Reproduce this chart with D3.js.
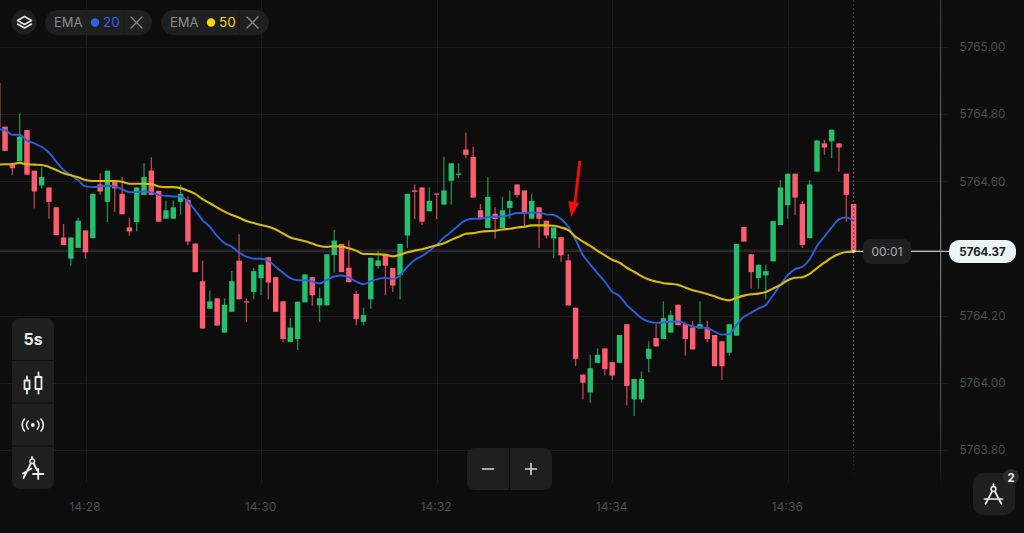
<!DOCTYPE html>
<html><head><meta charset="utf-8">
<script src="https://cdn.jsdelivr.net/npm/d3@7/dist/d3.min.js"></script>
<style>
html,body{margin:0;padding:0;background:#0d0d0d;overflow:hidden}
svg{display:block;font-family:Inter,Roboto,sans-serif}
</style></head><body>
<svg id="c" width="1024" height="533"></svg>
<script>
// Candle values, one per 5 seconds, first candle is 60 s before 14:28
const opens=[5764.893,5764.763,5764.651,5764.660,5764.753,5764.632,5764.588,5764.582,5764.523,5764.433,5764.370,5764.402,
5764.454,5764.431,5764.591,5764.539,5764.599,5764.563,5764.463,5764.479,5764.560,5764.632,5764.572,5764.489,
5764.489,5764.539,5764.545,5764.415,5764.303,5764.221,5764.252,5764.150,5764.212,5764.364,5764.243,5764.271,
5764.312,5764.374,5764.315,5764.243,5764.122,5764.131,5764.240,5764.315,5764.231,5764.231,5764.381,5764.414,
5764.343,5764.265,5764.182,5764.249,5764.348,5764.381,5764.342,5764.321,5764.439,5764.573,5764.582,5764.511,
5764.564,5764.531,5764.602,5764.620,5764.695,5764.673,5764.514,5764.461,5764.504,5764.461,5764.521,5764.591,
5764.573,5764.489,5764.523,5764.483,5764.430,5764.434,5764.365,5764.224,5764.025,5763.972,5764.060,5764.103,
5764.062,5764.060,5764.175,5763.951,5763.951,5764.072,5764.134,5764.131,5764.150,5764.233,5764.175,5764.165,
5764.162,5764.165,5764.143,5764.124,5764.090,5764.141,5764.464,5764.383,5764.312,5764.320,5764.362,5764.470,
5764.529,5764.623,5764.533,5764.431,5764.629,5764.713,5764.719,5764.713,5764.623,5764.533];
const highs=[5764.893,5764.763,5764.651,5764.803,5764.753,5764.632,5764.642,5764.582,5764.523,5764.473,5764.433,5764.492,
5764.454,5764.563,5764.624,5764.632,5764.599,5764.614,5764.492,5764.582,5764.654,5764.672,5764.572,5764.543,
5764.543,5764.591,5764.555,5764.415,5764.364,5764.275,5764.252,5764.252,5764.333,5764.443,5764.252,5764.342,
5764.352,5764.374,5764.315,5764.243,5764.194,5764.242,5764.323,5764.315,5764.284,5764.383,5764.455,5764.414,
5764.424,5764.274,5764.224,5764.373,5764.393,5764.381,5764.342,5764.414,5764.563,5764.591,5764.582,5764.582,
5764.564,5764.673,5764.654,5764.654,5764.745,5764.703,5764.533,5764.613,5764.523,5764.554,5764.573,5764.591,
5764.573,5764.563,5764.523,5764.483,5764.463,5764.434,5764.383,5764.224,5764.025,5764.084,5764.103,5764.103,
5764.062,5764.143,5764.175,5764.012,5764.034,5764.124,5764.175,5764.243,5764.215,5764.233,5764.175,5764.185,
5764.243,5764.185,5764.143,5764.124,5764.175,5764.414,5764.464,5764.383,5764.352,5764.352,5764.482,5764.604,
5764.623,5764.623,5764.542,5764.604,5764.722,5764.723,5764.754,5764.713,5764.623,5764.533];
const lows=[5764.762,5764.691,5764.619,5764.660,5764.620,5764.520,5764.579,5764.489,5764.440,5764.411,5764.349,5764.402,
5764.370,5764.431,5764.560,5764.479,5764.510,5764.502,5764.438,5764.451,5764.560,5764.560,5764.480,5764.489,
5764.489,5764.501,5764.411,5764.330,5764.162,5764.221,5764.171,5764.150,5764.212,5764.249,5764.181,5764.249,
5764.261,5764.249,5764.212,5764.121,5764.122,5764.098,5764.240,5764.230,5764.182,5764.231,5764.329,5764.330,
5764.300,5764.171,5764.171,5764.221,5764.340,5764.262,5764.271,5764.249,5764.402,5764.488,5764.470,5764.511,
5764.488,5764.531,5764.531,5764.610,5764.670,5764.552,5764.492,5764.461,5764.430,5764.461,5764.489,5764.552,
5764.465,5764.489,5764.402,5764.430,5764.371,5764.361,5764.231,5764.051,5763.951,5763.941,5764.060,5764.022,
5764.009,5764.060,5763.933,5763.902,5763.941,5764.032,5764.109,5764.131,5764.150,5764.172,5764.081,5764.100,
5764.162,5764.122,5764.050,5764.009,5764.081,5764.141,5764.421,5764.281,5764.281,5764.249,5764.362,5764.470,
5764.489,5764.501,5764.402,5764.431,5764.629,5764.679,5764.670,5764.629,5764.480,5764.392];
const closes=[5764.762,5764.691,5764.639,5764.733,5764.620,5764.570,5764.613,5764.539,5764.440,5764.411,5764.433,5764.483,
5764.389,5764.563,5764.570,5764.632,5764.579,5764.502,5764.451,5764.582,5764.613,5764.560,5764.480,5764.514,
5764.523,5764.563,5764.421,5764.330,5764.162,5764.243,5764.171,5764.233,5764.303,5764.249,5764.240,5764.333,
5764.352,5764.299,5764.212,5764.131,5764.165,5764.242,5764.323,5764.261,5764.252,5764.383,5764.424,5764.330,
5764.300,5764.190,5764.202,5764.373,5764.365,5764.349,5764.290,5764.414,5764.563,5764.569,5764.480,5764.542,
5764.561,5764.573,5764.654,5764.623,5764.679,5764.552,5764.492,5764.554,5764.488,5764.514,5764.542,5764.560,
5764.509,5764.542,5764.489,5764.439,5764.463,5764.380,5764.231,5764.072,5764.001,5764.044,5764.084,5764.041,
5764.022,5764.143,5763.991,5764.012,5764.012,5764.102,5764.109,5764.193,5764.202,5764.172,5764.131,5764.100,
5764.175,5764.131,5764.050,5764.050,5764.175,5764.414,5764.421,5764.330,5764.352,5764.333,5764.482,5764.582,
5764.623,5764.552,5764.411,5764.591,5764.722,5764.701,5764.754,5764.701,5764.560,5764.392];
const ema20=[5764.755,5764.753,5764.739,5764.739,5764.722,5764.713,5764.703,5764.686,5764.659,5764.634,5764.619,5764.604,
5764.585,5764.583,5764.585,5764.587,5764.585,5764.577,5764.568,5764.568,5764.570,5764.568,5764.560,5764.557,
5764.555,5764.555,5764.539,5764.514,5764.485,5764.465,5764.437,5764.416,5764.406,5764.388,5764.376,5764.370,
5764.370,5764.364,5764.346,5764.328,5764.312,5764.306,5764.306,5764.302,5764.296,5764.307,5764.317,5764.320,
5764.314,5764.302,5764.294,5764.303,5764.310,5764.313,5764.310,5764.321,5764.346,5764.366,5764.378,5764.393,
5764.411,5764.433,5764.450,5764.469,5764.485,5764.489,5764.489,5764.494,5764.495,5764.496,5764.500,5764.506,
5764.506,5764.507,5764.507,5764.502,5764.500,5764.488,5764.465,5764.426,5764.381,5764.353,5764.326,5764.302,
5764.272,5764.259,5764.232,5764.212,5764.193,5764.183,5764.179,5764.180,5764.183,5764.183,5764.176,5764.168,
5764.166,5764.163,5764.153,5764.144,5764.145,5764.173,5764.197,5764.209,5764.222,5764.232,5764.262,5764.292,
5764.321,5764.339,5764.346,5764.368,5764.408,5764.435,5764.463,5764.487,5764.493,5764.482];
const ema50=[5764.650,5764.651,5764.652,5764.655,5764.651,5764.650,5764.649,5764.643,5764.634,5764.624,5764.618,5764.612,
5764.604,5764.601,5764.601,5764.601,5764.601,5764.599,5764.593,5764.593,5764.593,5764.592,5764.585,5764.583,
5764.583,5764.580,5764.572,5764.563,5764.547,5764.535,5764.522,5764.510,5764.500,5764.492,5764.482,5764.476,
5764.470,5764.465,5764.457,5764.445,5764.433,5764.427,5764.422,5764.415,5764.408,5764.405,5764.407,5764.406,
5764.401,5764.394,5764.384,5764.384,5764.383,5764.382,5764.377,5764.382,5764.389,5764.394,5764.398,5764.404,
5764.410,5764.416,5764.426,5764.435,5764.444,5764.446,5764.450,5764.452,5764.453,5764.457,5764.459,5764.463,
5764.465,5764.469,5764.469,5764.469,5764.468,5764.463,5764.455,5764.435,5764.421,5764.408,5764.393,5764.380,
5764.367,5764.358,5764.343,5764.331,5764.318,5764.308,5764.302,5764.297,5764.295,5764.292,5764.284,5764.276,
5764.271,5764.265,5764.258,5764.250,5764.246,5764.254,5764.260,5764.264,5764.266,5764.271,5764.281,5764.292,
5764.306,5764.313,5764.315,5764.325,5764.342,5764.358,5764.373,5764.384,5764.390,5764.391];
const priceTicks=[5765.00,5764.80,5764.60,5764.40,5764.20,5764.00,5763.80];
const hiddenPriceTick=5764.40;
const timeTicks=["14:28","14:30","14:32","14:34","14:36"];
const lastPriceLabel="5764.37", countdownLabel="00:01";
const indicators=[{name:"EMA",period:"20",color:"#2b62ea"},{name:"EMA",period:"50",color:"#f2d70c"}];

const svg=d3.select("#c");
const t0=new Date(2024,0,1,14,27,0), stepMs=5000;
const timeOf=i=>new Date(+t0+i*stepMs);
const x=d3.scaleTime().domain([timeOf(12),timeOf(117)]).range([85.5,853.6]);
const y=d3.scaleLinear().domain([5765,5763.8]).range([47,450.2]);
const parseHM=d3.timeParse("%Y-%m-%d %H:%M");
const tickDates=timeTicks.map(s=>parseHM("2024-01-01 "+s));
const UP="#25bf6d",DOWN="#ff5c70",BG="#0d0d0d",PANEL="#1f1f1f";

svg.append("rect").attr("width",1024).attr("height",533).attr("fill",BG);

// fading gradients for the axis line and the dotted last-candle line
const defs=svg.append("defs");
function fade(id,stops){
  const g=defs.append("linearGradient").attr("id",id).attr("gradientUnits","userSpaceOnUse")
    .attr("x1",0).attr("x2",0).attr("y1",0).attr("y2",490);
  stops.forEach(s=>g.append("stop").attr("offset",s[0]).attr("stop-color",s[1]).attr("stop-opacity",s[2]));
}
fade("axisFade",[[0,"#3a3a3a",1],[.51,"#7a7a7a",1],[.87,"#404040",1],[.995,"#404040",0]]);
fade("dotFade",[[0,"#555",.4],[.1,"#5a5a5a",1],[.85,"#5a5a5a",1],[.98,"#5a5a5a",0]]);

// grid
const grid=svg.append("g");
grid.selectAll(".h").data(priceTicks).join("line").attr("x1",0).attr("x2",948)
  .attr("y1",d=>Math.round(y(d))+.5).attr("y2",d=>Math.round(y(d))+.5).attr("stroke","#1b1b1b");
grid.selectAll(".v").data(tickDates).join("line").attr("y1",0).attr("y2",483)
  .attr("x1",d=>Math.round(x(d))+.5).attr("x2",d=>Math.round(x(d))+.5).attr("stroke","#1a1a1a");

// axes
const ax=svg.append("g").attr("transform","translate(-1,507)")
  .call(d3.axisBottom(x).tickValues(tickDates).tickFormat(d3.timeFormat("%H:%M")).tickSize(0).tickPadding(0));
ax.select(".domain").remove();
ax.selectAll("text").attr("y",0).attr("dy",".35em").attr("fill","#4a4d4d").attr("font-size",12.2).attr("font-family","Inter,Roboto,sans-serif");
const ay=svg.append("g").attr("transform","translate(982.5,0)")
  .call(d3.axisRight(y).tickValues(priceTicks.filter(d=>d!==hiddenPriceTick)).tickFormat(d3.format(".2f")).tickSize(0).tickPadding(0));
ay.select(".domain").remove();
ay.selectAll("text").attr("text-anchor","middle").attr("fill","#4a4d4d").attr("font-size",11.8).attr("font-family","Inter,Roboto,sans-serif");
svg.append("rect").attr("x",940).attr("width",1.2).attr("y",0).attr("height",490).attr("fill","url(#axisFade)");

// current price band
const last=closes.length-1;
svg.append("line").attr("x1",0).attr("x2",941).attr("y1",y(closes[last])).attr("y2",y(closes[last])).attr("stroke","#2b2b2b").attr("stroke-width",2);

// candles
const idx=d3.range(opens.length);
const cs=svg.append("g");
cs.selectAll(".w").data(idx).join("line")
  .attr("x1",i=>x(timeOf(i))).attr("x2",i=>x(timeOf(i)))
  .attr("y1",i=>y(highs[i])).attr("y2",i=>y(lows[i]))
  .attr("stroke",i=>closes[i]>=opens[i]?"#1f8f55":"#c34557").attr("stroke-width",1.3);
cs.selectAll(".b").data(idx).join("rect")
  .attr("x",i=>x(timeOf(i))-2.7).attr("width",5.4)
  .attr("y",i=>y(Math.max(opens[i],closes[i])))
  .attr("height",i=>Math.max(1.2,Math.abs(y(opens[i])-y(closes[i]))))
  .attr("fill",i=>closes[i]>=opens[i]?UP:DOWN);

// EMA lines
const line=d3.line().x((d,i)=>x(timeOf(i))).y(d=>y(d)).curve(d3.curveMonotoneX);
svg.append("path").attr("d",line(ema20)).attr("fill","none").attr("stroke","#2b5fe0").attr("stroke-width",1.9);
svg.append("path").attr("d",line(ema50)).attr("fill","none").attr("stroke","#d8bb08").attr("stroke-width",2.1);

// last-candle marker & price line
const lx=x(timeOf(last)), ly=y(closes[last]);
svg.append("rect").attr("x",lx-.6).attr("width",1.2).attr("y",0).attr("height",482)
  .attr("fill","url(#dotFade)").attr("mask","url(#dotMask)");
const dm=defs.append("mask").attr("id","dotMask").attr("maskUnits","userSpaceOnUse")
  .attr("x",0).attr("y",0).attr("width",1024).attr("height",533);
dm.selectAll("rect").data(d3.range(0,482,4)).join("rect").attr("x",0).attr("width",1024).attr("y",d=>d).attr("height",2).attr("fill","#fff");
svg.append("line").attr("x1",lx).attr("x2",950).attr("y1",ly).attr("y2",ly).attr("stroke","#b9bdbd").attr("stroke-width",1.2);
svg.append("circle").attr("cx",lx).attr("cy",ly).attr("r",1.6).attr("fill","#f4efc0");
svg.append("rect").attr("x",863).attr("y",239).attr("width",48).attr("height",25).attr("rx",8).attr("fill",PANEL);
svg.append("text").attr("x",887).attr("y",251.5).attr("dy",".35em").attr("text-anchor","middle").attr("font-size",12).attr("fill","#a8adad").text(countdownLabel);
svg.append("rect").attr("x",949).attr("y",240).attr("width",67).attr("height",23).attr("rx",10).attr("fill","#ebf7f7");
svg.append("text").attr("x",982.5).attr("y",251.5).attr("dy",".35em").attr("text-anchor","middle").attr("font-size",11.5).attr("font-weight",700).attr("fill","#1e2222").text(lastPriceLabel);

// arrow annotation
svg.append("line").attr("x1",579.8).attr("y1",161).attr("x2",575).attr("y2",203).attr("stroke","#f40d0d").attr("stroke-width",3);
svg.append("path").attr("d","M568.4 201L579.2 203L571 217Z").attr("fill","#f40d0d");

// helper
const ui=svg.append("g");
const LIGHT="#e6eeee";
function stroke(g,d,c=LIGHT,w=1.6){return g.append("path").attr("d",d).attr("fill","none").attr("stroke",c).attr("stroke-width",w).attr("stroke-linecap","round").attr("stroke-linejoin","round");}

// layers button
ui.append("circle").attr("cx",24).attr("cy",22).attr("r",12.5).attr("fill",PANEL);
stroke(ui,"M24.5 16.5L31.5 20.5L24.5 24.5L17.5 20.5Z","#e4eaea",1.5);
stroke(ui,"M17.5 24L24.5 28L31.5 24","#e4eaea",1.5);

// indicator pills
const pillX=[45,161], pillW=[107,108];
indicators.forEach((d,k)=>{
  const g=ui.append("g").attr("transform",`translate(${pillX[k]},0)`);
  g.append("rect").attr("y",10).attr("width",pillW[k]).attr("height",25).attr("rx",12.5).attr("fill",PANEL);
  g.append("line").attr("x1",78.5).attr("x2",78.5).attr("y1",10).attr("y2",35).attr("stroke","#191919");
  g.append("text").attr("x",9).attr("y",22.5).attr("dy",".35em").attr("font-size",13).attr("fill","#858a8a").text(d.name);
  g.append("circle").attr("cx",50).attr("cy",22.5).attr("r",4.2).attr("fill",d.color);
  g.append("text").attr("x",58).attr("y",22.5).attr("dy",".35em").attr("font-size",13.5).attr("fill",d.color).text(d.period);
  stroke(g,"M86 17L97 28M97 17L86 28","#858a8a",1.3);
});

// left toolbar
ui.append("rect").attr("x",12).attr("y",318).attr("width",42).attr("height",171).attr("rx",8).attr("fill",PANEL);
[360.5,403,446].forEach(v=>ui.append("line").attr("x1",12).attr("x2",54).attr("y1",v).attr("y2",v).attr("stroke",BG).attr("stroke-width",1.2));
ui.append("text").attr("x",33).attr("y",339.5).attr("dy",".35em").attr("text-anchor","middle").attr("font-size",16).attr("font-weight",700).attr("fill",LIGHT).text("5s");
stroke(ui,"M24.5 380.5H29.5V389H24.5ZM27 376.5V380.5M27 389V393.5",LIGHT,1.8);
stroke(ui,"M35.5 377H41.5V389H35.5ZM38.5 372.5V377M38.5 389V393.5",LIGHT,1.8);
ui.append("circle").attr("cx",32.8).attr("cy",425).attr("r",1.9).attr("fill",LIGHT);
stroke(ui,"M28.2 421a6 6 0 0 0 0 8M37.4 421a6 6 0 0 1 0 8M24.5 419a9 9 0 0 0 0 12M41 419a9 9 0 0 1 0 12",LIGHT,1.6);
stroke(ui,"M32 457V459M30.8 463.5L23.5 478M33.8 463.5L36.8 470M23 473.5L31.5 468.5M33 474H43.5M38.2 468.8V479",LIGHT,1.8);
ui.append("circle").attr("cx",32.2).attr("cy",461.2).attr("r",2.3).attr("fill","none").attr("stroke",LIGHT).attr("stroke-width",1.4);

// zoom control
ui.append("rect").attr("x",467).attr("y",448).attr("width",85).attr("height",42).attr("rx",8).attr("fill",PANEL);
ui.append("line").attr("x1",509.5).attr("x2",509.5).attr("y1",448).attr("y2",490).attr("stroke",BG).attr("stroke-width",1.2);
stroke(ui,"M482.5 469H493.5","#cfdad6",1.6);
stroke(ui,"M525.5 469H536.5M531 463.5V474.5","#cfdad6",1.6);

// drawing tools button
ui.append("rect").attr("x",973).attr("y",473).attr("width",42).attr("height",42).attr("rx",10).attr("fill",PANEL);
ui.append("circle").attr("cx",993.5).attr("cy",489).attr("r",2.4).attr("fill","none").attr("stroke",LIGHT).attr("stroke-width",1.5);
stroke(ui,"M993.5 484V486.5M992 491.5L985.5 504M995 491.5L1001.5 504M984.5 499H1002.5",LIGHT,1.7);
ui.append("circle").attr("cx",1011).attr("cy",477).attr("r",8).attr("fill","#2b2b2b");
ui.append("text").attr("x",1011).attr("y",477.5).attr("dy",".35em").attr("text-anchor","middle").attr("font-size",11.5).attr("font-weight",700).attr("fill",LIGHT).text("2");
</script>
</body></html>
